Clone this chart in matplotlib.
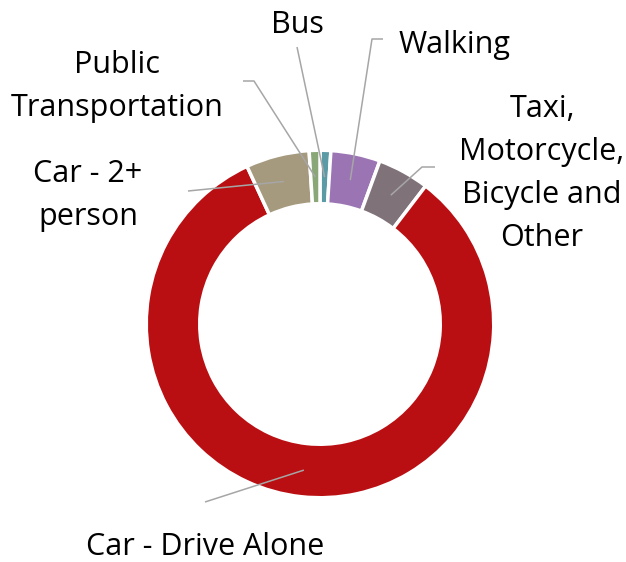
import numpy as np
import matplotlib.pyplot as plt

plt.rcParams["font.family"] = ["Open Sans", "DejaVu Sans"]

# data (percent share of commute mode)
modes = ["Bus", "Walking", "Taxi,\nMotorcycle,\nBicycle and\nOther",
         "Car - Drive Alone", "Car - 2+\nperson", "Public\nTransportation"]
shares = [1.0, 4.6, 4.8, 82.7, 5.9, 1.0]
colors = ["#5B9BA6", "#9B74B4", "#7F7279", "#BA0F12", "#A59A7E", "#8AA778"]

# label layout in pixel coords (x centre, first baseline) and leader-line points
label_pos = [(297, 33), (455, 53), (542, 117), (205, 555), (88, 182), (117, 73)]
leader_pts = [[(297, 47)], [(383, 39), (372, 39)], [(435, 167), (422, 167)],
              [(205, 502)], [(188, 191)], [(243, 81), (254, 81)]]

W, H = 626, 562
cx, cy = 320, 324
edge_lw = 2.5  # pt
half_edge = edge_lw / 72 * 100 / 2  # px
r_out = 172 + half_edge
r_in = 122 - half_edge

fig = plt.figure(figsize=(W / 100, H / 100), dpi=100)
ax = fig.add_axes([0, 0, 1, 1])

# y axis is inverted below, so counterclockwise in data = clockwise on screen
wedges, _ = ax.pie(shares, colors=colors, startangle=-90, counterclock=True,
                   radius=r_out, center=(cx, cy),
                   wedgeprops=dict(width=r_out - r_in, edgecolor="white",
                                   linewidth=edge_lw))

ax.set_xlim(0, W)
ax.set_ylim(H, 0)
ax.set_aspect("equal")
ax.axis("off")

line_h = 43
for w, lab, (tx, ty), pts in zip(wedges, modes, label_pos, leader_pts):
    mid = np.deg2rad((w.theta1 + w.theta2) / 2)
    xs = [p[0] for p in pts] + [cx + 147 * np.cos(mid)]
    ys = [p[1] for p in pts] + [cy + 147 * np.sin(mid)]
    ax.plot(xs, ys, color="#A6A6A6", lw=1.1, zorder=5, solid_capstyle="butt")
    for i, line in enumerate(lab.split("\n")):
        ax.text(tx, ty + i * line_h, line, ha="center", va="baseline",
                fontsize=22, color="black")

fig.savefig("out.png", dpi=100)
